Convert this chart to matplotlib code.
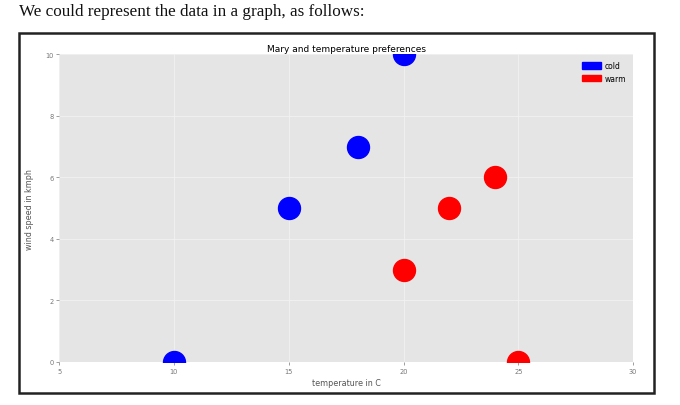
import matplotlib.pyplot as plt
import matplotlib.patches as mpatches

# Mary's preferences: temperature (C) vs wind speed (kmph)
cold_temp = [10, 15, 18, 20]
cold_wind = [0, 5, 7, 10]
warm_temp = [20, 22, 24, 25]
warm_wind = [3, 5, 6, 0]

xticks = [5, 10, 15, 20, 25, 30]
yticks = [0, 2, 4, 6, 8, 10]

fig = plt.figure(figsize=(6.8, 4.06), dpi=100)

# page text above the figure
fig.text(0.028, 0.97, "We could represent the data in a graph, as follows:",
         family="Liberation Serif", fontsize=12.3, va="center", ha="left", color="#111111")

# black frame around the figure image
frame = mpatches.Rectangle((0.028, 0.029), 0.934, 0.888, transform=fig.transFigure,
                           fill=False, edgecolor="#222222", linewidth=1.8)
fig.patches.append(frame)

ax = fig.add_axes([0.087, 0.106, 0.844, 0.758])
ax.set_facecolor("#e5e5e5")
for s in ax.spines.values():
    s.set_visible(False)
ax.grid(True, color="#f4f4f4", linewidth=0.5)
ax.set_axisbelow(True)

ax.scatter(cold_temp, cold_wind, s=250, color="blue", zorder=3, clip_on=True)
ax.scatter(warm_temp, warm_wind, s=250, color="red", zorder=3, clip_on=True)

ax.set_xlim(5, 30)
ax.set_ylim(0, 10)
ax.set_xticks(xticks)
ax.set_yticks(yticks)
ax.tick_params(labelsize=4.8, colors="#777777", length=2, width=0.5, pad=2)

ax.set_title("Mary and temperature preferences", fontsize=6.5, pad=2)
ax.set_xlabel("temperature in C", fontsize=5.8, color="#555555", labelpad=3)
ax.set_ylabel("wind speed in kmph", fontsize=5.8, color="#555555", labelpad=8)

cold_patch = mpatches.Patch(color="blue", label="cold")
warm_patch = mpatches.Patch(color="red", label="warm")
ax.legend(handles=[cold_patch, warm_patch], loc="upper right", frameon=False,
          fontsize=5.5, handlelength=2.5, handleheight=0.9, borderaxespad=0.5,
          handletextpad=0.5)

fig.savefig("out.png", dpi=100)
